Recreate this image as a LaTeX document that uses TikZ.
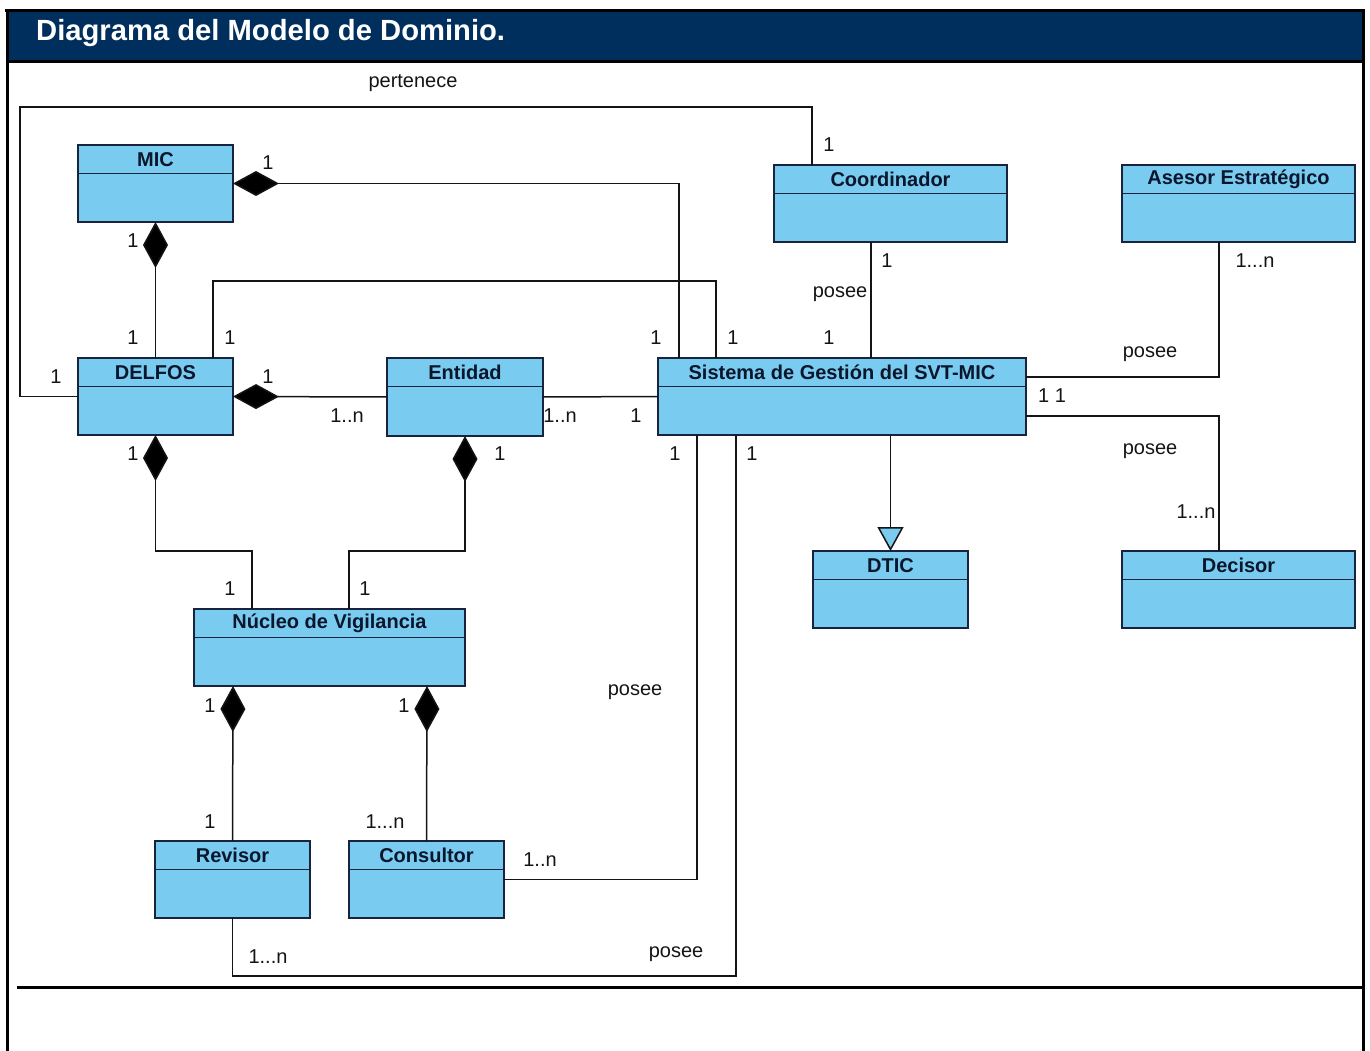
\documentclass[tikz,border=0pt]{standalone}
\usepackage{fontspec}
\setmainfont{Liberation Sans}
\usetikzlibrary{arrows.meta,calc}

\definecolor{hdrblue}{RGB}{0,47,94}
\definecolor{clsfill}{RGB}{122,203,240}
\definecolor{clsedge}{RGB}{24,36,62}
\definecolor{clstext}{RGB}{10,22,44}
\definecolor{inkgray}{RGB}{20,20,20}

\tikzset{
  clsbox/.style={draw=clsedge, fill=clsfill, line width=1.8pt, inner sep=0pt, outer sep=0pt, rectangle},
  clsrule/.style={draw=clsedge, line width=1.6pt},
  clstitle/.style={font=\fontsize{20}{24}\selectfont\bfseries, text=clstext, inner sep=0pt},
  lbl/.style={font=\fontsize{20}{24}\selectfont, text=inkgray, inner sep=0pt},
  assoc/.style={draw=inkgray, line width=1.5pt},
  comp/.style={assoc, {Diamond[length=46pt,width=25pt,fill=black]}-},
  gen/.style={assoc, -{Triangle[length=24pt,width=26pt,fill=clsfill]}},
  frameline/.style={draw=black, line width=3pt}
}

% UML class: name, x1, y1, x2, y2, title
\newcommand{\umlclass}[6]{%
  \node[clsbox, minimum width={#4-#2}, minimum height={#5-#3}] (#1) at ({(#2+#4)/2},{(#3+#5)/2}) {};
  \draw[clsrule] ([yshift=-28.5pt]#1.north west) -- ([yshift=-28.5pt]#1.north east);
  \node[clstitle] (#1-t) at ([yshift=-14.5pt]#1.north) {#6};
}

\begin{document}
\begin{tikzpicture}[x=1pt,y=-1pt]
\useasboundingbox (0,0) rectangle (1370,1051);

% page header and frame
\fill[hdrblue] (6,11) rectangle (1362,62);
\node[font=\fontsize{29.2}{33}\selectfont\bfseries, text=white, anchor=base west, inner sep=0pt] (title) at (36,40.5) {Diagrama del Modelo de Dominio.};
\draw[frameline] (4.5,11) -- (1364.5,11);
\draw[frameline] (7,62) -- (1363,62);
\draw[frameline] (7,9.5) -- (7,1051);
\draw[frameline] (1363,9.5) -- (1363,1051);
\draw[frameline] (17,987) -- (1363,987);

% classes
\umlclass{mic}{78}{145}{233}{222}{MIC}
\umlclass{delfos}{78}{358}{233}{435}{DELFOS}
\umlclass{ent}{387}{358}{543}{436}{Entidad}
\umlclass{sis}{658}{358}{1026}{435}{Sistema de Gestión del SVT-MIC}
\umlclass{coord}{774}{165}{1007}{242}{Coordinador}
\umlclass{ases}{1122}{165}{1355}{242}{Asesor Estratégico}
\umlclass{dtic}{813}{551}{968}{628}{DTIC}
\umlclass{dec}{1122}{551}{1355}{628}{Decisor}
\umlclass{nuc}{194}{609}{465}{686}{Núcleo de Vigilancia}
\umlclass{rev}{155}{841}{310}{918}{Revisor}
\umlclass{cons}{349}{841}{504}{918}{Consultor}

% bend points
\coordinate (ds-top) at (716,281);
\coordinate (dn-mid) at (252,551);
\coordinate (en-mid) at (349,551);
\coordinate (rs-low) at (736,976);

% connectors
\draw[assoc] (delfos.west) -| (20,107) -| (812,0 |- coord.north);
\draw[comp] (mic.east) -| (679,0 |- sis.north);
\draw[comp] (mic.south) -- (delfos.north);
\draw[assoc] (213,0 |- delfos.north) |- (ds-top) -- (716,0 |- sis.north);
\draw[comp] (delfos.east) -- (ent.west);
\draw[assoc] (ent.east) -- (sis.west);
\draw[assoc] (871,0 |- coord.south) -- (871,0 |- sis.north);
\draw[assoc] (sis.east |- 0,377) -| (1219,0 |- ases.south);
\draw[assoc] (sis.east |- 0,416) -| (1219,0 |- dec.north);
\draw[gen] (dtic.north |- sis.south) -- (dtic.north);
\draw[comp] (delfos.south) |- (dn-mid) -- (252,0 |- nuc.north);
\draw[comp] (ent.south) |- (en-mid) -- (349,0 |- nuc.north);
\draw[comp] (233,0 |- nuc.south) -- (rev.north);
\draw[comp] (427,0 |- nuc.south) -- (cons.north);
\draw[assoc] (cons.east) -| (697,0 |- sis.south);
\draw[assoc] (rev.south) |- (rs-low) -- (736,0 |- sis.south);

% association names and multiplicities
\node[lbl] (l-pert) at (413,83) {pertenece};
\node[lbl] (l1) at (56,377) {1};
\node[lbl] (l2) at (829,145) {1};
\node[lbl] (l3) at (268,163) {1};
\node[lbl] (l4) at (133,241) {1};
\node[lbl] (l5) at (133,338) {1};
\node[lbl] (l6) at (230,338) {1};
\node[lbl] (l7) at (268,377) {1};
\node[lbl] (l8) at (347,416) {1..n};
\node[lbl] (l9) at (560,416) {1..n};
\node[lbl] (l10) at (636,416) {1};
\node[lbl] (l11) at (656,338) {1};
\node[lbl] (l12) at (733,338) {1};
\node[lbl] (l13) at (829,338) {1};
\node[lbl] (l14) at (887,261) {1};
\node[lbl] (l-pos1) at (840,294) {posee};
\node[lbl] (l15) at (1255,261) {1...n};
\node[lbl] (l-pos2) at (1150,354) {posee};
\node[lbl] (l16) at (1052,396) {1 1};
\node[lbl] (l-pos3) at (1150,451) {posee};
\node[lbl] (l17) at (1196,512) {1...n};
\node[lbl] (l18) at (133,454) {1};
\node[lbl] (l19) at (500,454) {1};
\node[lbl] (l20) at (675,454) {1};
\node[lbl] (l21) at (752,454) {1};
\node[lbl] (l22) at (230,589) {1};
\node[lbl] (l23) at (365,589) {1};
\node[lbl] (l24) at (210,706) {1};
\node[lbl] (l25) at (404,706) {1};
\node[lbl] (l-pos4) at (635,692) {posee};
\node[lbl] (l26) at (210,822) {1};
\node[lbl] (l27) at (385,822) {1...n};
\node[lbl] (l28) at (540,860) {1..n};
\node[lbl] (l29) at (268,957) {1...n};
\node[lbl] (l-pos5) at (676,954) {posee};
\end{tikzpicture}
\end{document}
